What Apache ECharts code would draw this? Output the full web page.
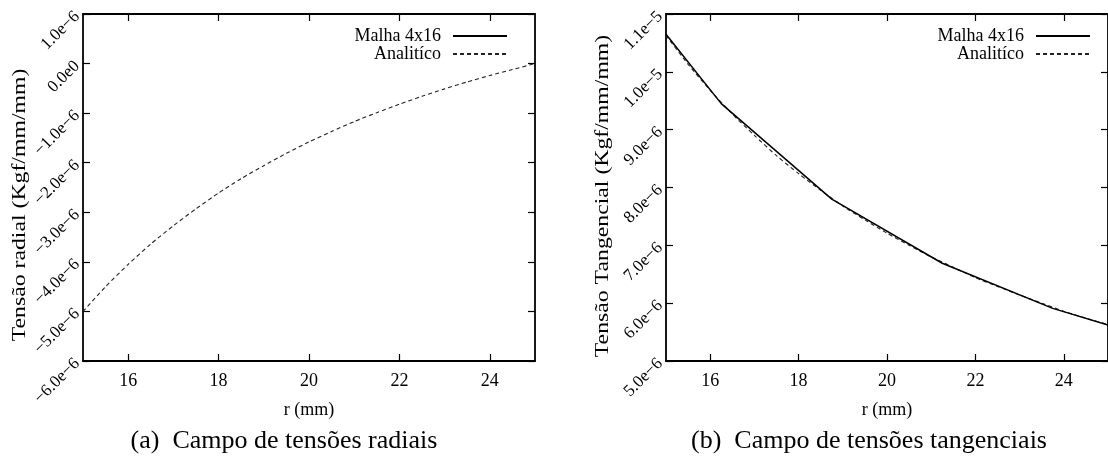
<!DOCTYPE html>
<html>
<head>
<meta charset="utf-8">
<script src="https://cdn.jsdelivr.net/npm/echarts@6/dist/echarts.min.js"></script>
<style>
  html, body { margin: 0; padding: 0; background: #ffffff; }
  #chart { width: 1108px; height: 459px; }
</style>
</head>
<body>
<div id="chart"></div>
<script>
// ---- data (stress values in units of 1e-6 Kgf/mm/mm) ----
const rAnalytic = [15, 15.5, 16, 16.5, 17, 17.5, 18, 18.5, 19, 19.5, 20, 20.5, 21, 21.5, 22, 22.5, 23, 23.5, 24, 24.5, 25];
const radialAnalytic = [-5.00, -4.50, -4.05, -3.64, -3.27, -2.93, -2.61, -2.32, -2.06, -1.81, -1.58, -1.37, -1.17, -0.99, -0.82, -0.66, -0.51, -0.37, -0.24, -0.12, 0.00];
const radialMeshR = [];
const radialMesh = [];
const tangAnalytic = [10.63, 10.13, 9.68, 9.27, 8.90, 8.55, 8.24, 7.95, 7.68, 7.44, 7.21, 7.00, 6.80, 6.62, 6.44, 6.29, 6.14, 6.00, 5.86, 5.74, 5.63];
const tangMeshR = [15, 16.25, 18.75, 21.25, 23.75, 25];
const tangMesh = [10.65, 9.45, 7.80, 6.69, 5.91, 5.62];

const xTicks = [16, 18, 20, 22, 24];
const leftYLabels = ["\u22126.0e\u22126", "\u22125.0e\u22126", "\u22124.0e\u22126", "\u22123.0e\u22126", "\u22122.0e\u22126", "\u22121.0e\u22126", "0.0e0", "1.0e\u22126"];
const rightYLabels = ["5.0e\u22126", "6.0e\u22126", "7.0e\u22126", "8.0e\u22126", "9.0e\u22126", "1.0e\u22125", "1.1e\u22125"];
const seriesNames = ["Malha 4x16", "Analit\u00edco"];
const xName = "r (mm)";
const leftYName = "Tens\u00e3o radial (Kgf/mm/mm)";
const rightYName = "Tens\u00e3o Tangencial (Kgf/mm/mm)";
const captionA = "(a)  Campo de tens\u00f5es radiais";
const captionB = "(b)  Campo de tens\u00f5es tangenciais";

const FONT = "'Liberation Serif', 'DejaVu Serif', serif";
const pairs = (xs, ys) => xs.map((x, i) => [x, ys[i]]);

const chart = echarts.init(document.getElementById('chart'), null, { renderer: 'canvas' });

const lineAxis = { show: true, onZero: false, lineStyle: { color: '#000', width: 1.8 } };
const tickIn = { show: true, inside: true, length: 7, lineStyle: { color: '#000', width: 1.2 } };

function xBottom(grid) {
  return {
    type: 'value', gridIndex: grid, position: 'bottom', min: 15, max: 25,
    axisLine: lineAxis,
    axisTick: Object.assign({}, tickIn, { customValues: xTicks }),
    axisLabel: { customValues: xTicks, color: '#000', fontFamily: FONT, fontSize: 18, margin: 11 },
    splitLine: { show: false },
    name: xName, nameLocation: 'middle', nameGap: 40,
    nameTextStyle: { color: '#000', fontFamily: FONT, fontSize: 18 }
  };
}
function xTop(grid) {
  return {
    type: 'value', gridIndex: grid, position: 'top', min: 15, max: 25,
    axisLine: lineAxis,
    axisTick: Object.assign({}, tickIn, { customValues: xTicks }),
    axisLabel: { show: false },
    splitLine: { show: false }
  };
}
function yLeft(grid, min, max, labels) {
  return {
    type: 'value', gridIndex: grid, position: 'left', min: min, max: max, interval: 1,
    axisLine: lineAxis, axisTick: tickIn,
    axisLabel: {
      rotate: 45, margin: 6, color: '#000', fontFamily: FONT, fontSize: 17,
      formatter: v => labels[Math.round(v - min)]
    },
    splitLine: { show: false }
  };
}
function yRight(grid, min, max) {
  return {
    type: 'value', gridIndex: grid, position: 'right', min: min, max: max, interval: 1,
    axisLine: lineAxis, axisTick: tickIn, axisLabel: { show: false },
    splitLine: { show: false }
  };
}

const solid = { color: '#000', width: 1.5, type: 'solid' };
const dashed = { color: '#222', width: 1.1, type: [4, 3] };

function legendAt(right) {
  return {
    orient: 'vertical', align: 'right', right: right, top: 22, itemGap: 0,
    itemWidth: 54, itemHeight: 18, data: seriesNames,
    itemStyle: { opacity: 0, borderWidth: 0 },
    textStyle: { color: '#000', fontFamily: FONT, fontSize: 18, padding: [0, 7, 0, 0] },
    selectedMode: false
  };
}

const option = {
  backgroundColor: '#fff',
  animation: false,
  grid: [
    { left: 83, top: 14, width: 452, height: 347, containLabel: false },
    { left: 666, top: 14, width: 452, height: 347, containLabel: false }
  ],
  xAxis: [xBottom(0), xTop(0), xBottom(1), xTop(1)],
  yAxis: [yLeft(0, -6, 1, leftYLabels), yRight(0, -6, 1), yLeft(1, 5, 11, rightYLabels), yRight(1, 5, 11)],
  legend: [legendAt(595), legendAt(12)],
  series: [
    { name: seriesNames[0], type: 'line', xAxisIndex: 0, yAxisIndex: 0, data: pairs(radialMeshR, radialMesh), showSymbol: false, symbol: 'none', lineStyle: solid, itemStyle: { color: '#000' } },
    { name: seriesNames[1], type: 'line', xAxisIndex: 0, yAxisIndex: 0, data: pairs(rAnalytic, radialAnalytic), showSymbol: false, symbol: 'none', smooth: 0.2, lineStyle: dashed, itemStyle: { color: '#222' } },
    { name: seriesNames[1], type: 'line', xAxisIndex: 2, yAxisIndex: 2, data: pairs(rAnalytic, tangAnalytic), showSymbol: false, symbol: 'none', smooth: 0.2, lineStyle: dashed, itemStyle: { color: '#222' } },
    { name: seriesNames[0], type: 'line', xAxisIndex: 2, yAxisIndex: 2, data: pairs(tangMeshR, tangMesh), showSymbol: false, symbol: 'none', lineStyle: solid, itemStyle: { color: '#000' } }
  ],
  graphic: [
    { type: 'text', x: 20, y: 205, rotation: Math.PI / 2, scaleX: 1.25,
      style: { text: leftYName, font: "19px " + FONT, fill: '#000', textAlign: 'center', textVerticalAlign: 'middle' } },
    { type: 'text', x: 603, y: 196, rotation: Math.PI / 2, scaleX: 1.25,
      style: { text: rightYName, font: "19px " + FONT, fill: '#000', textAlign: 'center', textVerticalAlign: 'middle' } },
    { type: 'text', x: 284, y: 441,
      style: { text: captionA, font: "26px " + FONT, fill: '#000', textAlign: 'center', textVerticalAlign: 'middle' } },
    { type: 'text', x: 869, y: 441,
      style: { text: captionB, font: "26px " + FONT, fill: '#000', textAlign: 'center', textVerticalAlign: 'middle' } }
  ]
};
chart.setOption(option);
</script>
</body>
</html>
